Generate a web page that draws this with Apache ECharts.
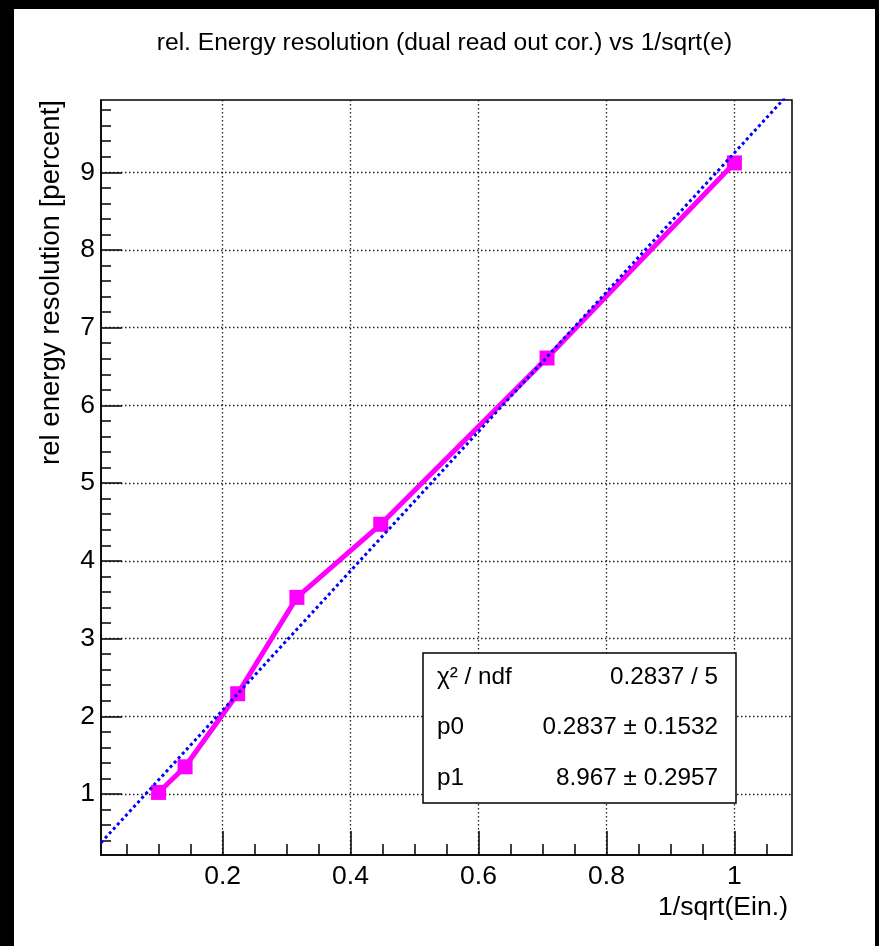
<!DOCTYPE html>
<html>
<head>
<meta charset="utf-8">
<script src="https://cdn.jsdelivr.net/npm/echarts@6/dist/echarts.min.js"></script>
<style>
  html, body { margin: 0; padding: 0; background: #000; }
  #frame { position: relative; width: 879px; height: 946px; background: #000; }
  #chart { position: absolute; left: 14px; top: 9px; width: 861px; height: 937px; background: #fff; }
</style>
</head>
<body>
<div id="frame"><div id="chart"></div></div>
<script>
  // measured points: 1/sqrt(E) vs relative resolution
  var invSqrtE = [0.1, 0.1414, 0.2236, 0.3162, 0.4472, 0.7071, 1.0];
  var resolution = [1.02, 1.35, 2.29, 3.53, 4.47, 6.61, 9.12];

  // linear fit p0 + p1*x, drawn over the function range
  var fitP0 = 0.2837;
  var fitP1 = 8.967;
  var fitRange = [0.01, 1.09];
  var statsRows = [
    ['χ² / ndf', '0.2837 / 5'],
    ['p0', '0.2837 ± 0.1532'],
    ['p1', '8.967 ± 0.2957']
  ];

  var xMajor = [0.2, 0.4, 0.6, 0.8, 1.0];
  var xMinor = [0.05, 0.1, 0.15, 0.25, 0.3, 0.35, 0.45, 0.5, 0.55, 0.65, 0.7, 0.75, 0.85, 0.9, 0.95, 1.05];
  var yMajor = [1, 2, 3, 4, 5, 6, 7, 8, 9];
  var yMinor = [0.4, 0.6, 0.8, 1.2, 1.4, 1.6, 1.8, 2.2, 2.4, 2.6, 2.8, 3.2, 3.4, 3.6, 3.8,
    4.2, 4.4, 4.6, 4.8, 5.2, 5.4, 5.6, 5.8, 6.2, 6.4, 6.6, 6.8, 7.2, 7.4, 7.6, 7.8,
    8.2, 8.4, 8.6, 8.8, 9.2, 9.4, 9.6, 9.8];

  var font = 'Liberation Sans';
  var gridDot = { color: '#222', width: 1.3, type: [1.5, 2.5] };

  var chart = echarts.init(document.getElementById('chart'));

  var pts = invSqrtE.map(function (x, i) { return [x, resolution[i]]; });
  var fitPts = fitRange.map(function (x) { return [x, fitP0 + fitP1 * x]; });

  var graphics = [
    {
      type: 'text', x: 37, y: 91, rotation: Math.PI / 2, z: 10,
      style: { text: 'rel energy resolution [percent]', font: '27.6px "' + font + '"', fill: '#000', align: 'right', verticalAlign: 'middle' }
    },
    {
      type: 'text', x: 774, y: 899, z: 10,
      style: { text: '1/sqrt(Ein.)', font: '26.6px "' + font + '"', fill: '#000', align: 'right', verticalAlign: 'middle' }
    },
    {
      type: 'rect', z: 10,
      shape: { x: 409, y: 644, width: 313, height: 150 },
      style: { fill: '#fff', stroke: '#000', lineWidth: 1.5 }
    }
  ];
  statsRows.forEach(function (row, i) {
    var y = 668 + i * 50.5;
    graphics.push({
      type: 'text', x: 423, y: y, z: 11,
      style: { text: row[0], font: '24.3px "' + font + '"', fill: '#000', align: 'left', verticalAlign: 'middle' }
    });
    graphics.push({
      type: 'text', x: 704, y: y, z: 11,
      style: { text: row[1], font: '24.3px "' + font + '"', fill: '#000', align: 'right', verticalAlign: 'middle' }
    });
  });

  var option = {
    animation: false,
    backgroundColor: '#fff',
    textStyle: { fontFamily: font },
    title: {
      text: 'rel. Energy resolution (dual read out cor.) vs 1/sqrt(e)',
      left: 'center',
      top: 17,
      textStyle: { fontSize: 24.6, fontWeight: 'normal', color: '#000', fontFamily: font }
    },
    grid: {
      left: 87, top: 91, width: 691, height: 755,
      show: true, borderColor: '#000', borderWidth: 1.5, backgroundColor: '#fff',
      outerBoundsMode: 'none'
    },
    xAxis: [
      {
        type: 'value', min: fitRange[0], max: fitRange[1], position: 'bottom',
        axisLine: { show: true, onZero: false, lineStyle: { color: '#000', width: 1.5 } },
        axisTick: { show: true, inside: true, length: 24, customValues: xMajor, lineStyle: { color: '#000', width: 1.5 } },
        axisLabel: { show: true, customValues: xMajor, margin: 8, fontSize: 26.5, color: '#000', fontFamily: font },
        splitLine: { show: true, lineStyle: gridDot }
      },
      {
        type: 'value', min: fitRange[0], max: fitRange[1], position: 'top', offset: -755,
        axisLine: { show: false, onZero: false },
        axisTick: { show: true, inside: false, length: 11, customValues: xMinor, lineStyle: { color: '#000', width: 1.5 } },
        axisLabel: { show: false },
        splitLine: { show: false }
      }
    ],
    yAxis: [
      {
        type: 'value', min: 0.215, max: 9.93, position: 'left',
        axisLine: { show: true, onZero: false, lineStyle: { color: '#000', width: 1.5 } },
        axisTick: { show: true, inside: true, length: 21, customValues: yMajor, lineStyle: { color: '#000', width: 1.5 } },
        axisLabel: { show: true, customValues: yMajor, margin: 6, fontSize: 26.5, color: '#000', fontFamily: font },
        splitLine: { show: true, lineStyle: gridDot }
      },
      {
        type: 'value', min: 0.215, max: 9.93, position: 'right', offset: -691,
        axisLine: { show: false, onZero: false },
        axisTick: { show: true, inside: false, length: 10, customValues: yMinor, lineStyle: { color: '#000', width: 1.5 } },
        axisLabel: { show: false },
        splitLine: { show: false }
      }
    ],
    series: [
      {
        name: 'resolution',
        type: 'line',
        data: pts,
        xAxisIndex: 0, yAxisIndex: 0,
        symbol: 'rect',
        symbolSize: 15,
        lineStyle: { color: '#ff00ff', width: 5 },
        itemStyle: { color: '#ff00ff' },
        z: 3
      },
      {
        name: 'fit',
        type: 'line',
        data: fitPts,
        xAxisIndex: 0, yAxisIndex: 0,
        symbol: 'none',
        clip: true,
        lineStyle: { color: '#0000ff', width: 3, type: [3, 3] },
        z: 4
      }
    ],
    graphic: graphics
  };

  chart.setOption(option);
  window.addEventListener('resize', function () {
    chart.resize();
  });
</script>
</body>
</html>
